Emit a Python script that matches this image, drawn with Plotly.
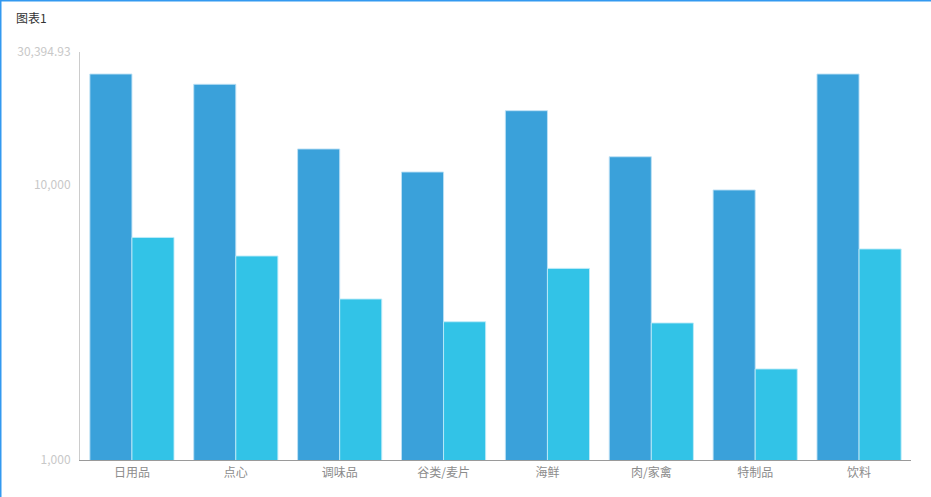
import plotly.graph_objects as go

categories = ["日用品", "点心", "调味品", "谷类/麦片", "海鲜", "肉/家禽", "特制品", "饮料"]
series_a = [25280, 23200, 13500, 11135, 18600, 12650, 9580, 25280]
series_b = [6440, 5513, 3847, 3180, 4970, 3148, 2142, 5847]
y_tickvals = [1000, 10000, 30394.93]
y_ticktext = ["1,000", "10,000", "30,394.93"]
title_text = "图表1"

W, H = 931, 497
ML, MR, MT, MB = 80, 20, 52, 37
PW, PH = W - ML - MR, H - MT - MB

def px_x(p):
    return (p - ML) / PW

def px_y(p):
    return 1 - (p - MT) / PH

fig = go.Figure()
fig.add_trace(go.Bar(x=categories, y=series_a, name="A",
                     marker=dict(color="#3aa1da", line=dict(color="rgba(190,225,245,0.9)", width=1))))
fig.add_trace(go.Bar(x=categories, y=series_b, name="B",
                     marker=dict(color="#32c3e7", line=dict(color="rgba(190,235,248,0.9)", width=1))))

fig.update_layout(
    width=W, height=H,
    margin=dict(l=ML, r=MR, t=MT, b=MB),
    paper_bgcolor="white", plot_bgcolor="white",
    barmode="group", bargap=0.19, bargroupgap=0,
    showlegend=False,
    font=dict(family="Noto Sans CJK SC, sans-serif", size=12),
    xaxis=dict(showgrid=False, showline=True, linecolor="#9a9a9a", linewidth=1,
               ticks="", tickfont=dict(color="#8c8c8c", size=12), ticklabelstandoff=2),
    yaxis=dict(type="log", range=[3, 4.48280], showgrid=False, zeroline=False,
               showline=True, linecolor="#cccccc", linewidth=1,
               tickvals=y_tickvals, ticktext=y_ticktext, ticks="",
               tickfont=dict(color="#c8c8c8", size=12), ticklabelstandoff=6),
    annotations=[dict(text=title_text, xref="paper", yref="paper",
                      x=px_x(14), y=px_y(17), xanchor="left", yanchor="middle",
                      showarrow=False, font=dict(size=12, color="#333333"))],
    shapes=[
        dict(type="line", xref="paper", yref="paper", x0=px_x(0), x1=px_x(W),
             y0=px_y(0.5), y1=px_y(0.5), line=dict(color="#3399f0", width=2)),
        dict(type="line", xref="paper", yref="paper", x0=px_x(0.5), x1=px_x(0.5),
             y0=px_y(0), y1=px_y(H), line=dict(color="#3399f0", width=2)),
    ],
)

fig.write_html("out.html", config={"displayModeBar": False},
               post_script="document.body.style.margin='0';document.body.style.padding='0';")
